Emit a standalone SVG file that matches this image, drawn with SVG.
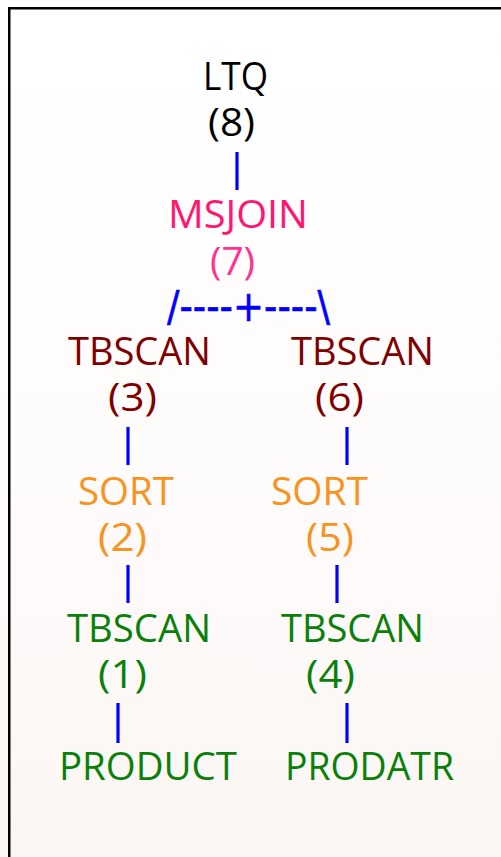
<svg xmlns="http://www.w3.org/2000/svg" width="501" height="857" viewBox="0 0 501 857">
  <defs>
    <linearGradient id="paper" x1="0" y1="0" x2="0" y2="1">
      <stop offset="0" stop-color="#ffffff"/>
      <stop offset="0.5" stop-color="#fefcfb"/>
      <stop offset="1" stop-color="#fbf6f4"/>
    </linearGradient>
    <style>
      .lbl { font-family: "Open Sans", "Noto Sans", sans-serif; font-size: 38px; }
      .ltq { fill: #000000; }
      .join { fill: #ff1670; }
      .join-n { fill: #ff3394; }
      .scan { fill: #800000; }
      .sort { fill: #f7931e; }
      .leaf { fill: #0a800a; }
      .edge { stroke: #0000ff; stroke-width: 3.2; fill: none; }
      .fork { font-family: "DejaVu Sans", sans-serif; font-size: 43px; fill: #0000ff; stroke: #0000ff; stroke-width: 0.6; }
    </style>
  </defs>

  <!-- page -->
  <rect x="0" y="0" width="501" height="857" fill="url(#paper)"/>
  <rect x="9.25" y="8.25" width="600" height="900" fill="none" stroke="#000000" stroke-width="2.5"/>

  <!-- connectors -->
  <g id="connectors">
    <line class="edge" x1="237" y1="152" x2="237" y2="190"/>
    <text class="fork" x="167" y="321" textLength="163" lengthAdjust="spacingAndGlyphs">/----+----\</text>
    <line class="edge" x1="128" y1="427" x2="128" y2="465"/>
    <line class="edge" x1="128" y1="565" x2="128" y2="603"/>
    <line class="edge" x1="118" y1="703" x2="118" y2="743"/>
    <line class="edge" x1="347" y1="427" x2="347" y2="465"/>
    <line class="edge" x1="337" y1="565" x2="337" y2="603"/>
    <line class="edge" x1="347" y1="703" x2="347" y2="743"/>
  </g>

  <!-- operators: name on the first line, operator number below -->
  <g id="ltq8">
    <text class="lbl ltq"><tspan x="203" y="90" textLength="65" lengthAdjust="spacingAndGlyphs">LTQ</tspan><tspan x="208" y="136" textLength="47" lengthAdjust="spacingAndGlyphs">(8)</tspan></text>
  </g>
  <g id="msjoin7">
    <text class="lbl"><tspan class="join" x="168" y="228" textLength="140" lengthAdjust="spacingAndGlyphs">MSJOIN</tspan><tspan class="join-n" x="210" y="275" textLength="45" lengthAdjust="spacingAndGlyphs">(7)</tspan></text>
  </g>
  <g id="tbscan3">
    <text class="lbl scan"><tspan x="68" y="365" textLength="143" lengthAdjust="spacingAndGlyphs">TBSCAN</tspan><tspan x="108" y="411" textLength="49" lengthAdjust="spacingAndGlyphs">(3)</tspan></text>
  </g>
  <g id="tbscan6">
    <text class="lbl scan"><tspan x="291" y="365" textLength="143" lengthAdjust="spacingAndGlyphs">TBSCAN</tspan><tspan x="315" y="411" textLength="49" lengthAdjust="spacingAndGlyphs">(6)</tspan></text>
  </g>
  <g id="sort2">
    <text class="lbl sort"><tspan x="78" y="505" textLength="96" lengthAdjust="spacingAndGlyphs">SORT</tspan><tspan x="98" y="551" textLength="49" lengthAdjust="spacingAndGlyphs">(2)</tspan></text>
  </g>
  <g id="sort5">
    <text class="lbl sort"><tspan x="271" y="505" textLength="97" lengthAdjust="spacingAndGlyphs">SORT</tspan><tspan x="306" y="551" textLength="48" lengthAdjust="spacingAndGlyphs">(5)</tspan></text>
  </g>
  <g id="tbscan1">
    <text class="lbl leaf"><tspan x="67" y="642" textLength="144" lengthAdjust="spacingAndGlyphs">TBSCAN</tspan><tspan x="98" y="688" textLength="49" lengthAdjust="spacingAndGlyphs">(1)</tspan></text>
  </g>
  <g id="tbscan4">
    <text class="lbl leaf"><tspan x="281" y="642" textLength="143" lengthAdjust="spacingAndGlyphs">TBSCAN</tspan><tspan x="306" y="688" textLength="49" lengthAdjust="spacingAndGlyphs">(4)</tspan></text>
  </g>
  <g id="product">
    <text class="lbl leaf" x="59" y="780" textLength="178" lengthAdjust="spacingAndGlyphs">PRODUCT</text>
  </g>
  <g id="prodatr">
    <text class="lbl leaf" x="285" y="780" textLength="169" lengthAdjust="spacingAndGlyphs">PRODATR</text>
  </g>
</svg>
